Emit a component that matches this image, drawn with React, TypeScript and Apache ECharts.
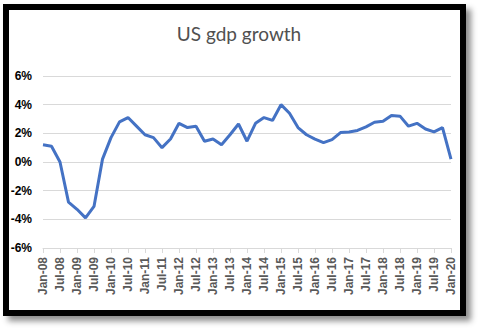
import React, { useEffect, useRef } from "react";
import * as echarts from "echarts";

const categories: string[] = [
  "Jan-08", "Apr-08", "Jul-08", "Oct-08",
  "Jan-09", "Apr-09", "Jul-09", "Oct-09",
  "Jan-10", "Apr-10", "Jul-10", "Oct-10",
  "Jan-11", "Apr-11", "Jul-11", "Oct-11",
  "Jan-12", "Apr-12", "Jul-12", "Oct-12",
  "Jan-13", "Apr-13", "Jul-13", "Oct-13",
  "Jan-14", "Apr-14", "Jul-14", "Oct-14",
  "Jan-15", "Apr-15", "Jul-15", "Oct-15",
  "Jan-16", "Apr-16", "Jul-16", "Oct-16",
  "Jan-17", "Apr-17", "Jul-17", "Oct-17",
  "Jan-18", "Apr-18", "Jul-18", "Oct-18",
  "Jan-19", "Apr-19", "Jul-19", "Oct-19",
  "Jan-20",
];

const gdpGrowth: number[] = [
  1.2, 1.1, 0.0, -2.8,
  -3.3, -3.9, -3.1, 0.2,
  1.7, 2.8, 3.1, 2.5,
  1.9, 1.7, 1.0, 1.6,
  2.7, 2.4, 2.5, 1.45,
  1.6, 1.2, 1.9, 2.65,
  1.45, 2.7, 3.1, 2.9,
  4.0, 3.4, 2.4, 1.9,
  1.6, 1.35, 1.56, 2.05,
  2.1, 2.2, 2.45, 2.77,
  2.84, 3.25, 3.2, 2.5,
  2.7, 2.3, 2.1, 2.4,
  0.2,
];

const yMin = -6;
const yMax = 6;
const yStep = 2;

export default function App() {
  const ref = useRef<HTMLDivElement>(null);

  useEffect(() => {
    if (!ref.current) return;
    const chart = echarts.init(ref.current, undefined, { renderer: "svg" });
    chart.setOption({
      animation: false,
      title: {
        text: "US gdp growth",
        left: 234,
        textAlign: "center",
        top: 19,
        textStyle: {
          fontFamily: "Lato",
          fontSize: 19,
          fontWeight: "normal",
          color: "#505050",
        },
      },
      grid: { left: 43, right: 28, top: 76, bottom: 81 },
      xAxis: [
        {
          type: "category",
          data: categories,
          boundaryGap: false,
          position: "bottom",
          axisLine: { show: false },
          axisTick: { show: false },
          splitLine: { show: false },
          axisLabel: {
            interval: 1,
            rotate: 90,
            margin: 9,
            fontFamily: "Liberation Sans",
            fontWeight: "bold",
            fontSize: 12,
            color: "#595959",
          },
        },
        {
          type: "category",
          data: categories,
          boundaryGap: false,
          position: "bottom",
          axisLine: { show: true, onZero: true, lineStyle: { color: "#d9d9d9", width: 1 } },
          axisTick: { show: true, interval: 1, length: 5, lineStyle: { color: "#d9d9d9" } },
          axisLabel: { show: false },
          splitLine: { show: false },
        },
      ],
      yAxis: {
        type: "value",
        min: yMin,
        max: yMax,
        interval: yStep,
        axisLine: { show: false },
        axisTick: { show: false },
        splitLine: { lineStyle: { color: "#d9d9d9", width: 1 } },
        axisLabel: {
          formatter: (v: number) => `${v}%`,
          margin: 11,
          fontFamily: "Liberation Sans",
          fontWeight: "bold",
          fontSize: 12,
          color: "#000000",
        },
      },
      series: [
        {
          type: "line",
          data: gdpGrowth,
          xAxisIndex: 0,
          yAxisIndex: 0,
          showSymbol: false,
          symbol: "none",
          lineStyle: { color: "#4472C4", width: 3 },
          z: 3,
        },
      ],
    });
    return () => chart.dispose();
  }, []);

  return (
    <div
      style={{
        position: "fixed",
        left: 0,
        top: 0,
        width: 479,
        height: 329,
        background: "#ffffff",
        overflow: "hidden",
      }}
    >
      <div
        style={{
          position: "absolute",
          left: 3,
          top: 4,
          width: 463,
          height: 312,
          boxSizing: "border-box",
          border: "6px solid #000000",
          background: "#ffffff",
          boxShadow: "5px 5px 6px rgba(0,0,0,0.45)",
        }}
      />
      <div
        ref={ref}
        style={{ position: "absolute", left: 0, top: 0, width: 479, height: 329 }}
      />
    </div>
  );
}
